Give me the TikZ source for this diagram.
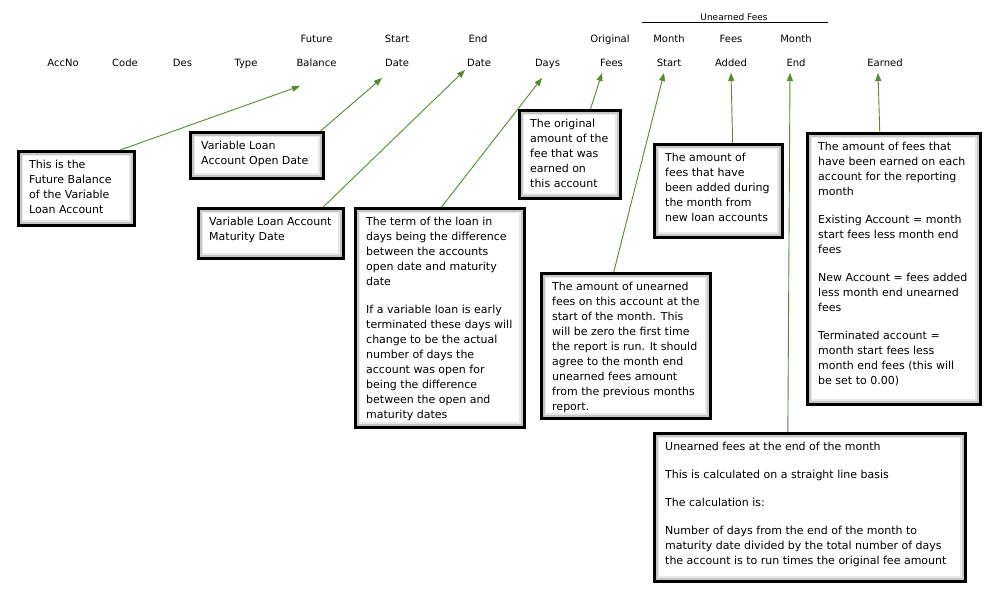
\documentclass[tikz,border=0pt]{standalone}
\usepackage{fontspec}
\setmainfont{DejaVu Sans}
\usetikzlibrary{arrows.meta,calc}
\definecolor{arrowgreen}{RGB}{84,140,44}
\tikzset{
  hdr/.style={font=\fontsize{10}{12}\selectfont, anchor=base, inner sep=0pt},
  grouphdr/.style={font=\fontsize{9}{11}\selectfont, anchor=base, inner sep=0pt},
  note/.style={draw=black, line width=2.6pt, fill=white, anchor=north west, inner sep=0pt,
    path picture={
      \draw[gray!18, line width=10pt] (path picture bounding box.south west) rectangle (path picture bounding box.north east);
      \draw[gray!45, line width=6.5pt] (path picture bounding box.south west) rectangle (path picture bounding box.north east);
    }},
  notetext/.style={anchor=north west, inner sep=0pt, align=left, font=\fontsize{11}{15}\selectfont},
  conn/.style={draw=arrowgreen, line width=0.9pt, -{Triangle[length=8pt,width=6pt]}},
}
\newcommand\mybox[6]{%
  \node[note, minimum width={(#4-#2)*1pt}, minimum height={(#5-#3)*1pt}] (#1) at (#2,#3) {};
  \node[notetext] (#1t) at ($(#1.north west)+(12pt,-9.5pt)$) {#6};
}
\begin{document}
\begin{tikzpicture}[x=1pt,y=-1pt]
\useasboundingbox (0,0) rectangle (996,597);
\fill[white] (0,0) rectangle (996,597);

% header group
\node[grouphdr] (ug) at (734,20) {Unearned Fees};
\draw[line width=0.8pt] (642,22.3) -- (828,22.3);

% header row 1
\node[hdr] (h1a) at (316.5,42.5) {Future};
\node[hdr] (h1b) at (397,42.5) {Start};
\node[hdr] (h1c) at (478,42.5) {End};
\node[hdr] (h1d) at (610,42.5) {Original};
\node[hdr] (h1e) at (669,42.5) {Month};
\node[hdr] (h1f) at (731,42.5) {Fees};
\node[hdr] (h1g) at (796,42.5) {Month};

% header row 2
\node[hdr] (accno) at (63,66.5) {AccNo};
\node[hdr] (code) at (125,66.5) {Code};
\node[hdr] (des) at (182.5,66.5) {Des};
\node[hdr] (type) at (246,66.5) {Type};
\node[hdr] (bal) at (316.5,66.5) {Balance};
\node[hdr] (sdate) at (397,66.5) {Date};
\node[hdr] (edate) at (479,66.5) {Date};
\node[hdr] (days) at (547.5,66.5) {Days};
\node[hdr] (fees) at (611.5,66.5) {Fees};
\node[hdr] (mstart) at (669,66.5) {Start};
\node[hdr] (added) at (731,66.5) {Added};
\node[hdr] (mend) at (796,66.5) {End};
\node[hdr] (earned) at (885,66.5) {Earned};

% arrow tips
\coordinate (tBal) at (300,86);
\coordinate (tSD) at (382,78);
\coordinate (tED) at (465,70);
\coordinate (tDays) at (542,78);
\coordinate (tFees) at (602,73);
\coordinate (tMS) at (664,73);
\coordinate (tAdd) at (731,73);
\coordinate (tME) at (790,73);
\coordinate (tEarn) at (878,73);

% boxes
\mybox{b1}{17}{150}{133}{224}{This is the\\Future Balance\\of the Variable\\Loan Account}
\mybox{b2}{189}{131}{322}{177}{Variable Loan\\Account Open Date}
\mybox{b3}{197}{207}{342}{257}{Variable Loan Account\\Maturity Date}
\mybox{b4}{354}{207}{523}{426}{The term of the loan in\\days being the difference\\between the accounts\\open date and maturity\\date\\[13pt]If a variable loan is early\\terminated these days will\\change to be the actual\\number of days the\\account was open for\\being the difference\\between the open and\\maturity dates}
\mybox{b5}{518}{109}{619}{197}{The original\\amount of the\\fee that was\\earned on\\this account}
\mybox{b6}{540}{272}{709}{417}{The amount of unearned\\fees on this account at the\\start of the month. This\\will be zero the first time\\the report is run. It should\\agree to the month end\\unearned fees amount\\from the previous months\\report.}
\mybox{b7}{653}{143}{781}{236}{The amount of\\fees that have\\been added during\\the month from\\new loan accounts}
\mybox{b8}{806}{132}{979}{403}{The amount of fees that\\have been earned on each\\account for the reporting\\month\\[13pt]Existing Account = month\\start fees less month end\\fees\\[13pt]New Account = fees added\\less month end unearned\\fees\\[13pt]Terminated account =\\month start fees less\\month end fees (this will\\be set to 0.00)}
\mybox{b9}{653}{432}{964}{580}{Unearned fees at the end of the month\\[13pt]This is calculated on a straight line basis\\[13pt]The calculation is:\\[13pt]Number of days from the end of the month to\\maturity date divided by the total number of days\\the account is to run times the original fee amount}

% connectors
\draw[conn] ($(b1.north west)!0.87!(b1.north east)$) -- (tBal);
\draw[conn] ($(b2.north west)!0.97!(b2.north east)$) -- (tSD);
\draw[conn] ($(b3.north west)!0.855!(b3.north east)$) -- (tED);
\draw[conn] ($(b4.north west)!0.51!(b4.north east)$) -- (tDays);
\draw[conn] ($(b5.north west)!0.70!(b5.north east)$) -- (tFees);
\draw[conn] ($(b6.north west)!0.43!(b6.north east)$) -- (tMS);
\draw[conn] ($(b7.north west)!0.61!(b7.north east)$) -- (tAdd);
\draw[conn] ($(b8.north west)!0.42!(b8.north east)$) -- (tEarn);
\draw[conn] ($(b9.north west)!0.43!(b9.north east)$) -- (tME);
\end{tikzpicture}
\end{document}
